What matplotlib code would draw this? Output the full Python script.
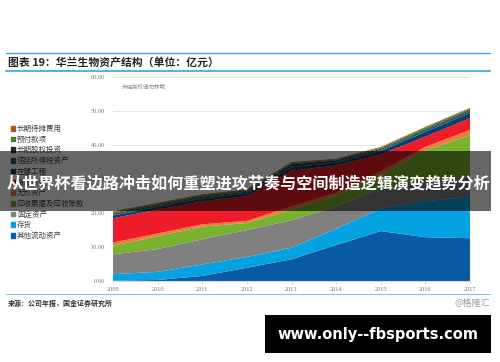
import matplotlib
matplotlib.use("Agg")
import matplotlib.pyplot as plt
from matplotlib.patches import Rectangle, Patch

plt.rcParams["font.family"] = ["Noto Sans CJK SC", "DejaVu Sans"]

# ---- data (亿元) ----
years = [2009, 2010, 2011, 2012, 2013, 2014, 2015, 2016, 2017]
other_current = [0.1, 0.3, 1.5, 3.9, 6.4, 10.6, 14.7, 12.9, 12.6]   # 其他流动资产
inventory = [1.9, 2.4, 3.4, 3.2, 3.4, 4.8, 6.6, 10.6, 12.2]         # 存货
fixed_assets = [5.85, 6.7, 7.4, 7.9, 8.1, 6.6, 5.7, 6.0, 5.9]       # 固定资产
receivables = [2.55, 3.8, 3.7, 2.1, 3.1, 3.0, 4.0, 9.0, 12.3]       # 应收票据及应收账款
intangible = [0.9, 0.8, 0.7, 0.6, 1.0, 1.0, 1.3, 1.0, 1.5]          # 无形资产
cash = [7.2, 7.0, 6.8, 7.3, 10.5, 8.0, 5.0, 3.0, 3.5]               # 货币资金
construction = [0.8, 0.8, 0.8, 0.8, 1.0, 0.9, 1.0, 1.4, 1.5]       # 在建工程
deferred_tax = [0.2, 0.2, 0.2, 0.2, 0.2, 0.2, 0.3, 0.5, 0.6]       # 递延所得税资产
lt_equity = [0.3, 0.3, 0.3, 0.3, 0.6, 0.4, 0.3, 0.3, 0.3]          # 长期股权投资
prepaid = [0.5, 0.5, 0.5, 0.5, 0.5, 0.3, 0.4, 0.5, 0.4]            # 预付款项
lt_prepaid_exp = [0.2, 0.2, 0.2, 0.2, 0.2, 0.2, 0.2, 0.2, 0.2]     # 长期待摊费用

labels = ["其他流动资产", "存货", "固定资产", "应收票据及应收账款", "无形资产",
          "货币资金", "在建工程", "递延所得税资产", "长期股权投资", "预付款项",
          "长期待摊费用"]
series = [other_current, inventory, fixed_assets, receivables, intangible,
          cash, construction, deferred_tax, lt_equity, prepaid, lt_prepaid_exp]
colors = ["#0b5ba4", "#05a2e2", "#808080", "#79b22e", "#f07a3a",
          "#ec1c2a", "#0f3d6b", "#1b5a6e", "#262a2c", "#4e7d2a", "#b5531f"]
yticks = [0, 10, 20, 30, 40, 50, 60]

W, H = 500, 362
fig = plt.figure(figsize=(5.0, 3.62), dpi=100)
ax = fig.add_axes([113 / W, 1 - 281 / H, (470 - 113) / W, (281 - 77.3) / H])

ax.stackplot(years, *series, colors=colors, linewidth=0)
ax.set_xlim(years[0], years[-1])
ax.set_ylim(0, 60)
ax.set_yticks(yticks)
ax.set_yticklabels([f"{v:.2f}" for v in yticks], family="Liberation Serif")
ax.set_xticks(years)
ax.set_xticklabels(years, family="Liberation Serif")
ax.grid(axis="y", color="#e3e3e3", lw=0.7)
ax.set_axisbelow(True)
for s in ["top", "right", "left"]:
    ax.spines[s].set_visible(False)
ax.spines["bottom"].set_color("#d9d9d9")
ax.tick_params(axis="y", length=0, labelsize=4.6, labelcolor="#777777", pad=6)
ax.tick_params(axis="x", length=2, color="#d9d9d9", labelsize=4.6,
               labelcolor="#777777", pad=2)
ax.text(2009.2, 56.5, "未经授权请勿转载", fontsize=4, color="#8a8a8a")

# legend, top layer first
handles = [Patch(color=c) for c in colors[::-1]]
fig.legend(handles, labels[::-1], loc="upper left",
           bbox_to_anchor=(8 / W, 1 - 122 / H), frameon=False, fontsize=5.4,
           handlelength=0.55, handleheight=0.55, handletextpad=0.25,
           labelspacing=0.36, borderaxespad=0, labelcolor="#404040")

# header / footer
fig.add_artist(plt.Line2D([6 / W, 490 / W], [1 - 53 / H] * 2, color="#3aa3dc", lw=0.9))
fig.add_artist(plt.Line2D([6 / W, 490 / W], [1 - 71 / H] * 2, color="#3aa3dc", lw=1.2))
fig.text(8 / W, 1 - 62 / H, "图表 19：华兰生物资产结构（单位：亿元）", fontsize=7.8,
         fontweight="bold", color="#222222", va="center")
fig.add_artist(plt.Line2D([6 / W, 490 / W], [1 - 294 / H] * 2, color="#7fcbe6", lw=0.8))
fig.text(8 / W, 1 - 303 / H, "来源：公司年报，国金证券研究所", fontsize=5,
         fontweight="bold", color="#333333", va="center")
fig.text(490 / W, 1 - 303 / H, "@格隆汇", fontsize=6.5, color="#9a9a9a",
         ha="right", va="center")

# overlays
fig.add_artist(Rectangle((0, 1 - 211 / H), 491 / W, 60 / H, transform=fig.transFigure,
                         facecolor="black", alpha=0.6, lw=0, zorder=10))
fig.text(249 / W, 1 - 183 / H, "从世界杯看边路冲击如何重塑进攻节奏与空间制造逻辑演变趋势分析",
         fontsize=11.6, fontweight="bold", color="white", ha="center",
         va="center", zorder=11)
fig.add_artist(Rectangle((265 / W, 1 - 353 / H), 226 / W, 38 / H, transform=fig.transFigure,
                         facecolor="black", lw=0, zorder=10))
fig.text(378 / W, 1 - 334 / H, "www.only--fbsports.com", fontsize=10.5,
         fontweight="bold", color="white", ha="center", va="center",
         family="DejaVu Sans", zorder=11)

fig.savefig("out.png", dpi=100)
